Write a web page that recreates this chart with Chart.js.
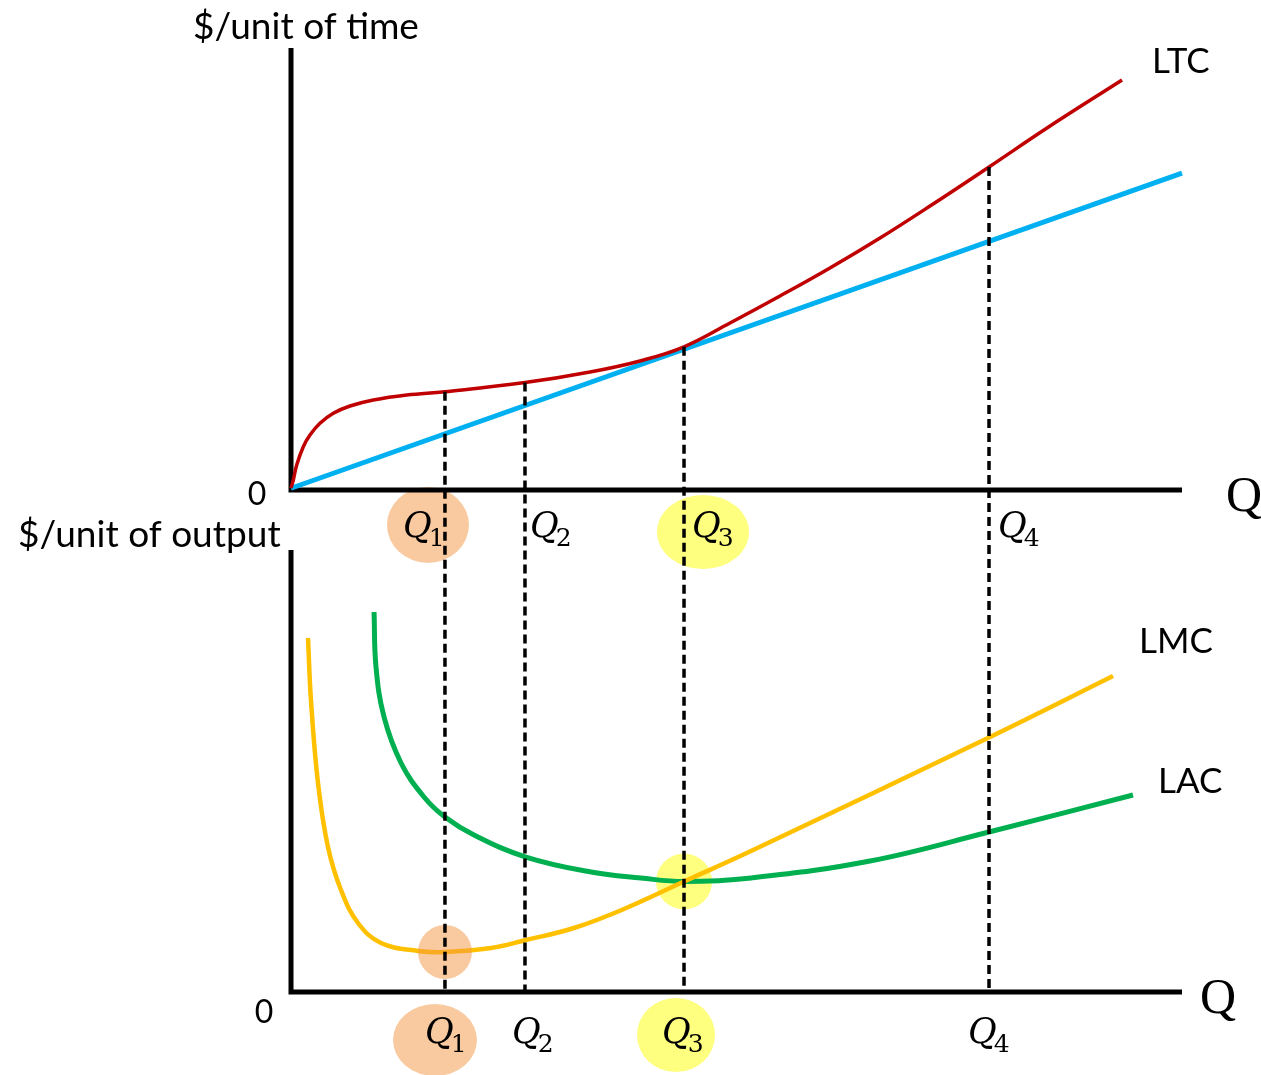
<!DOCTYPE html>
<html>
<head>
<meta charset="utf-8">
<script src="https://cdn.jsdelivr.net/npm/chart.js@4/dist/chart.umd.min.js"></script>
<style>
  body { margin: 0; background: #fff; }
  canvas { display: block; }
</style>
</head>
<body>
<canvas id="costChart" width="1261" height="1075"></canvas>
<script>
// Quantités repères (axe Q, 0..100)
const qNames = ['1', '2', '3', '4'];
const qValues = [17.28, 26.26, 44.11, 78.34];

// Panneau du haut : coût total de long terme (LTC) et rayon depuis l'origine
const ltcX = [0, 0.26, 0.64, 1.38, 2.13, 3.25, 4.75, 6.62, 9.24, 12.99, 17.28, 26.26, 33.56, 39.17, 44.11, 49.27, 54.88, 60.49, 66.11, 71.72, 78.34, 84.85, 93.27];
const ltcY = [0.45, 2.26, 5.66, 9.80, 12.44, 15.09, 17.35, 19.00, 20.36, 21.49, 22.24, 24.3, 26.7, 29.2, 32.4, 37.78, 43.89, 50.23, 57.01, 64.25, 73.08, 81.9, 92.76];
const rayX = [0, 100];
const rayY = [0.4, 71.7];

// Panneau du bas : coût marginal (LMC) et coût moyen (LAC)
const lmcX = [1.91, 2.24, 3.03, 4.15, 5.61, 7.52, 10.10, 14.25, 17.28, 22.45, 26.37, 31.76, 37.37, 44.11, 51.63, 78.34, 92.26];
const lmcY = [80.09, 66.06, 47.29, 32.81, 23.08, 15.61, 11.09, 9.28, 9.05, 9.95, 11.76, 14.48, 18.78, 25.0, 31.9, 57.6, 71.5];
const lacX = [9.32, 9.54, 10.44, 12.35, 14.93, 17.28, 20.54, 26.37, 33.67, 39.28, 44.11, 51.63, 64.98, 78.34, 94.50];
const lacY = [85.97, 73.53, 62.22, 51.81, 44.12, 39.59, 35.52, 30.54, 27.15, 25.79, 25.0, 25.8, 29.64, 36.2, 44.57];

// Mise en page (pixels)
const AREA_TOP = 48, TOP_AXIS = 490, BOT_AXIS_TOP = 550, BOT_AXIS = 992;
const PANEL_MAX = 100;
const pxPerUnit = (TOP_AXIS - AREA_TOP) / PANEL_MAX;
const TOP_MIN = -(BOT_AXIS - TOP_AXIS) / pxPerUnit;
const BOT_MAX = (BOT_AXIS - AREA_TOP) / pxPerUnit;

const ORANGE = 'rgba(244, 150, 66, 0.5)';
const YELLOW = 'rgba(255, 255, 0, 0.5)';

const pts = (xs, ys) => xs.map((x, i) => ({ x: x, y: ys[i] }));
const ltcAt = q => ltcY[ltcX.indexOf(q)];
const lmcAt = q => lmcY[lmcX.indexOf(q)];

// Décalages des étiquettes Q par rapport aux pointillés
const topLabelDx = [-42, 5, 8, 9];
const botLabelDx = [-20, -13, -22, -21];

function blob(ctx, cx, cy, rx, ry, color) {
    ctx.save();
    ctx.fillStyle = color;
    ctx.beginPath();
    ctx.ellipse(cx, cy, rx, ry, 0, 0, Math.PI * 2);
    ctx.fill();
    ctx.restore();
}

function qLabel(ctx, x, y, sub) {
    ctx.font = "italic 35px 'DejaVu Serif'";
    ctx.textAlign = 'left';
    ctx.textBaseline = 'alphabetic';
    ctx.fillText('Q', x, y);
    const w = ctx.measureText('Q').width;
    ctx.font = "25px 'DejaVu Serif'";
    ctx.fillText(sub, x + w - 3, y + 9);
}

const decor = {
    id: 'decor',
    beforeDatasetsDraw(chart) {
        const ctx = chart.ctx;
        const x = chart.scales.x, yT = chart.scales.yTop, yB = chart.scales.yBot;
        const x0 = x.getPixelForValue(0), x1 = x.getPixelForValue(100);

        // surlignages des étiquettes
        const q1 = x.getPixelForValue(qValues[0]), q3 = x.getPixelForValue(qValues[2]);
        blob(ctx, q1 - 17, TOP_AXIS + 35, 41, 38, ORANGE);
        blob(ctx, q3 + 19, TOP_AXIS + 42, 46, 37, YELLOW);
        blob(ctx, q1 - 10, BOT_AXIS + 48, 42, 36, ORANGE);
        blob(ctx, q3 - 8, BOT_AXIS + 43, 39, 37, YELLOW);

        // axes
        ctx.save();
        ctx.strokeStyle = '#000';
        ctx.lineWidth = 5;
        ctx.lineJoin = 'miter';
        ctx.beginPath();
        ctx.moveTo(x0, yT.getPixelForValue(PANEL_MAX));
        ctx.lineTo(x0, yT.getPixelForValue(0));
        ctx.lineTo(x1, yT.getPixelForValue(0));
        ctx.moveTo(x0, yB.getPixelForValue(PANEL_MAX));
        ctx.lineTo(x0, yB.getPixelForValue(0));
        ctx.lineTo(x1, yB.getPixelForValue(0));
        ctx.stroke();
        ctx.restore();
    },
    afterDraw(chart) {
        const ctx = chart.ctx;
        const x = chart.scales.x;
        ctx.save();
        ctx.fillStyle = '#000';
        ctx.textBaseline = 'alphabetic';

        ctx.font = "37px Lato";
        ctx.textAlign = 'left';
        ctx.fillText('$/unit of time', 193, 39);
        ctx.fillText('$/unit of output', 18, 547);
        ctx.font = "35px Lato";
        ctx.fillText('LTC', 1152, 73);
        ctx.fillText('LMC', 1139, 653);
        ctx.fillText('LAC', 1158, 793);
        ctx.font = "32px Lato";
        ctx.textAlign = 'center';
        ctx.fillText('0', 257, 505);
        ctx.fillText('0', 264, 1023);

        ctx.font = "50px 'Liberation Serif'";
        ctx.fillText('Q', 1244, 511);
        ctx.fillText('Q', 1218, 1013);

        qValues.forEach((q, i) => {
            const px = x.getPixelForValue(q);
            qLabel(ctx, px + topLabelDx[i], TOP_AXIS + 47, qNames[i]);
            qLabel(ctx, px + botLabelDx[i], BOT_AXIS + 51, qNames[i]);
        });
        ctx.restore();
    }
};

const dashed = qValues.map(q => ({
    data: [{ x: q, y: ltcAt(q) }, { x: q, y: TOP_MIN }],
    yAxisID: 'yTop',
    borderColor: '#000',
    borderWidth: 3.5,
    borderDash: [9, 5],
    pointRadius: 0,
    tension: 0,
    order: 0
}));

new Chart(document.getElementById('costChart'), {
    type: 'line',
    data: {
        datasets: [
            ...dashed,
            {
                data: [{ x: qValues[0], y: lmcAt(qValues[0]) }],
                yAxisID: 'yBot', showLine: false,
                pointRadius: 27, pointBorderWidth: 0,
                pointBackgroundColor: ORANGE, order: 1
            },
            {
                label: 'LTC', data: pts(ltcX, ltcY), yAxisID: 'yTop',
                borderColor: '#C00000', borderWidth: 3.5, pointRadius: 0,
                tension: 0.4, order: 2
            },
            {
                label: 'ray', data: pts(rayX, rayY), yAxisID: 'yTop',
                borderColor: '#00B0F0', borderWidth: 5, pointRadius: 0,
                tension: 0, order: 3
            },
            {
                label: 'LMC', data: pts(lmcX, lmcY), yAxisID: 'yBot',
                borderColor: '#FFC000', borderWidth: 4.5, pointRadius: 0,
                tension: 0.4, order: 2
            },
            {
                label: 'LAC', data: pts(lacX, lacY), yAxisID: 'yBot',
                borderColor: '#00B050', borderWidth: 5, pointRadius: 0,
                tension: 0.4, order: 2
            },
            {
                data: [{ x: qValues[2], y: 25.0 }],
                yAxisID: 'yBot', showLine: false,
                pointRadius: 28, pointBorderWidth: 0,
                pointBackgroundColor: YELLOW, order: 5
            }
        ]
    },
    options: {
        responsive: false,
        animation: false,
        clip: false,
        layout: { padding: { top: AREA_TOP, bottom: 1075 - BOT_AXIS, left: 291, right: 1261 - 1182 } },
        plugins: { legend: { display: false }, tooltip: { enabled: false } },
        scales: {
            x: { type: 'linear', min: 0, max: 100, display: false },
            yTop: { type: 'linear', min: TOP_MIN, max: PANEL_MAX, display: false },
            yBot: { type: 'linear', min: 0, max: BOT_MAX, display: false }
        }
    },
    plugins: [decor]
});
</script>
</body>
</html>
